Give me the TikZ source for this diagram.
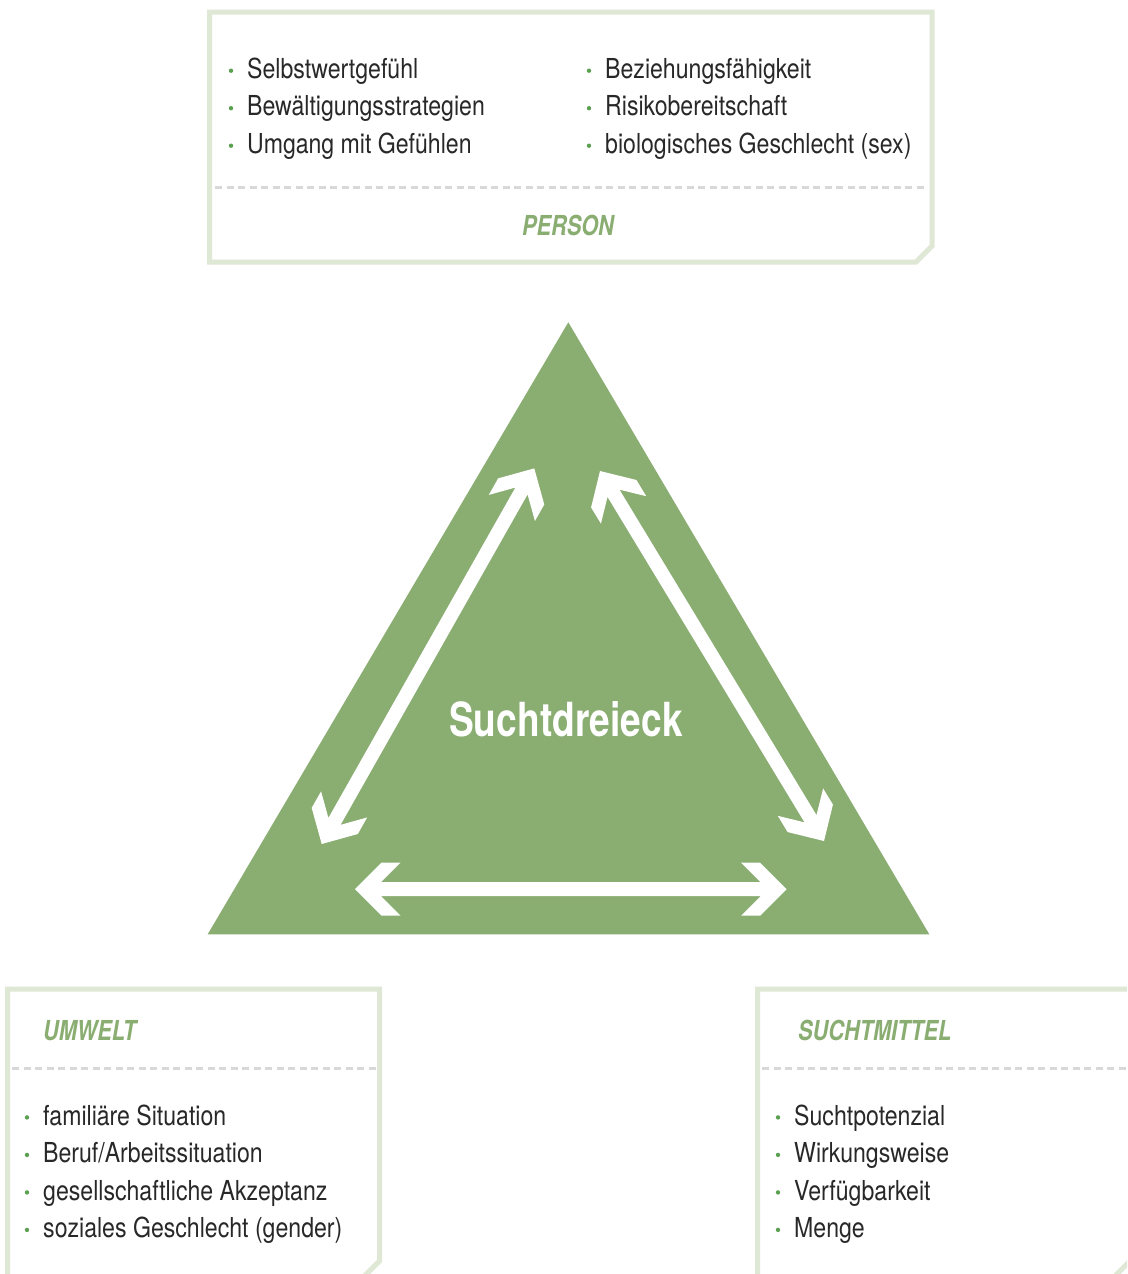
\documentclass[tikz,border=0pt]{standalone}
\usepackage{fontspec}
\usetikzlibrary{calc}
\newfontfamily\bodyfont{TeX Gyre Heros}[FakeStretch=0.84]
\newfontfamily\headfont{TeX Gyre Heros}[FakeStretch=0.79]

\definecolor{trigreen}{RGB}{138,173,114}
\definecolor{frame}{RGB}{222,232,213}
\definecolor{dashgray}{RGB}{216,216,216}
\definecolor{textgray}{RGB}{40,40,40}
\definecolor{dotgreen}{RGB}{92,160,82}

\tikzset{
  boxline/.style={draw=frame, line width=5pt, line join=miter},
  sepline/.style={draw=dashgray, line width=2.5pt, dash pattern=on 7pt off 4.5pt},
  itemtext/.style={anchor=base west, inner sep=0pt, text=textgray,
                   font=\bodyfont\fontsize{27.5}{33}\selectfont},
  heading/.style={inner sep=0pt, text=trigreen,
                  font=\headfont\bfseries\itshape\fontsize{27.5}{33}\selectfont},
  bulletdot/.style={fill=dotgreen},
  arrowfill/.style={fill=white},
}

% list entry: node name, position of the text's baseline start, text
\newcommand{\listentry}[3]{%
  \node[itemtext] (#1) at (#2) {#3};
  \fill[bulletdot] ($(#1.base west)+(-16,-7.6)$) circle (2.2);
}

% white double-headed arrow with chevron heads between two coordinates
\newcommand{\twowayarrow}[2]{%
  \path let \p1=(#1), \p2=(#2),
        \n1={atan2(\y2-\y1,\x2-\x1)}, \n2={veclen(\x2-\x1,\y2-\y1)} in
    \pgfextra{\pgfmathsetmacro\tmpang{\n1}\global\let\arrang\tmpang
              \pgfmathsetmacro\tmplen{\n2}\global\let\arrlen\tmplen};
  \fill[arrowfill, shift={(#1)}, rotate=\arrang]
    (0,0) -- (26.5,26.5) -- (45.5,26.5) -- (26,7) -- ({\arrlen-26},7)
    -- ({\arrlen-45.5},26.5) -- ({\arrlen-26.5},26.5) -- ({\arrlen},0)
    -- ({\arrlen-26.5},-26.5) -- ({\arrlen-45.5},-26.5) -- ({\arrlen-26},-7)
    -- (26,-7) -- (45.5,-26.5) -- (26.5,-26.5) -- cycle;
}

\begin{document}
\begin{tikzpicture}[x=1pt, y=-1pt]
  \useasboundingbox (0,0) rectangle (1127,1274);
  \fill[white] (0,0) rectangle (1127,1274);
  \clip (0,0) rectangle (1127,1274);

  % ---- person box (top) ----
  \draw[boxline] (209.7,12) -- (932,12) -- (932,246) -- (916,262)
                 -- (209.7,262) -- cycle;
  \draw[sepline] (215,187.3) -- (927,187.3);
  \listentry{p1}{247,78.3}{Selbstwertgefühl}
  \listentry{p2}{247,115.8}{Bewältigungsstrategien}
  \listentry{p3}{247,153.3}{Umgang mit Gefühlen}
  \listentry{p4}{605,78.3}{Beziehungsfähigkeit}
  \listentry{p5}{605,115.8}{Risikobereitschaft}
  \listentry{p6}{605,153.3}{biologisches Geschlecht (sex)}
  \node[heading, anchor=base] (person) at (568,235.5) {PERSON};

  % ---- triangle with the three relations ----
  \fill[trigreen] (568.3,322.3) -- (929.3,934.3) -- (207.7,934.3) -- cycle;
  \coordinate (lb) at (321.7,844);
  \coordinate (lt) at (534.3,468.3);
  \coordinate (rb) at (824,841);
  \coordinate (rt) at (600,471);
  \coordinate (bl) at (355,889.2);
  \coordinate (br) at (786.7,889.2);
  \twowayarrow{lb}{lt}
  \twowayarrow{rb}{rt}
  \twowayarrow{bl}{br}
  \node[anchor=base, inner sep=0pt, text=white,
        font=\headfont\bfseries\fontsize{47}{50}\selectfont]
        (sucht) at (566,736) {Suchtdreieck};

  % ---- environment box (bottom left) ----
  \draw[boxline] (7.5,989) -- (379.5,989) -- (379.5,1261) -- (363.5,1277)
                 -- (7.5,1277) -- cycle;
  \draw[sepline] (12,1068.3) -- (376,1068.3);
  \node[heading, anchor=base west] (umwelt) at (43,1040) {UMWELT};
  \listentry{u1}{43,1125}{familiäre Situation}
  \listentry{u2}{43,1162.5}{Beruf/Arbeitssituation}
  \listentry{u3}{43,1200}{gesellschaftliche Akzeptanz}
  \listentry{u4}{43,1237.5}{soziales Geschlecht (gender)}

  % ---- substance box (bottom right) ----
  \draw[boxline] (757.5,989) -- (1132,989) -- (1132,1259) -- (1112,1279)
                 -- (757.5,1279) -- cycle;
  \draw[sepline] (762,1068.3) -- (1127,1068.3);
  \node[heading, anchor=base west] (mittel) at (798,1040) {SUCHTMITTEL};
  \listentry{s1}{794,1125}{Suchtpotenzial}
  \listentry{s2}{794,1162.5}{Wirkungsweise}
  \listentry{s3}{794,1200}{Verfügbarkeit}
  \listentry{s4}{794,1237.5}{Menge}
\end{tikzpicture}
\end{document}
